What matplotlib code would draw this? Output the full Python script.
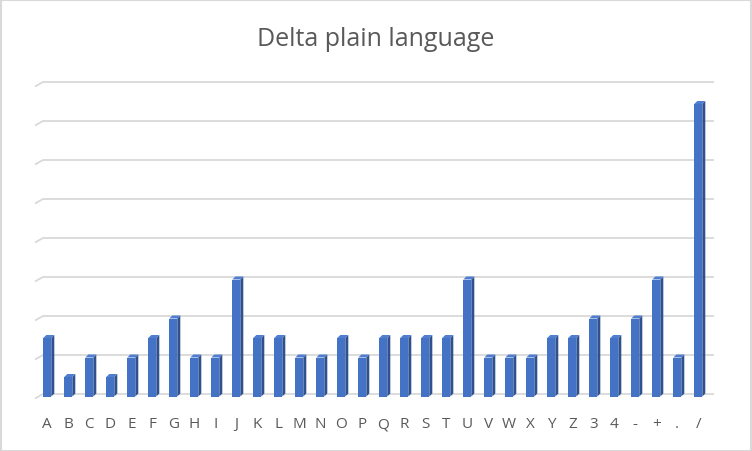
import matplotlib
matplotlib.use("Agg")
import matplotlib.pyplot as plt
from matplotlib.patches import Polygon, Rectangle

plt.rcParams['font.family'] = ['Open Sans', 'DejaVu Sans']

categories = ["A", "B", "C", "D", "E", "F", "G", "H", "I", "J", "K", "L", "M",
              "N", "O", "P", "Q", "R", "S", "T", "U", "V", "W", "X", "Y", "Z",
              "3", "4", "-", "+", ".", "/"]
counts = [3, 1, 2, 1, 2, 3, 4, 2, 2, 6, 3, 3, 2, 2, 3, 2, 3, 3, 3, 3, 6, 2, 2,
          2, 3, 3, 4, 3, 4, 6, 2, 15]
grid_values = [0, 2, 4, 6, 8, 10, 12, 14, 16]

W, H = 752, 452
fig = plt.figure(figsize=(W / 100, H / 100), dpi=100)

# axes placed in pixel terms: left 30, right 720, bottom 410, top 70
ax = fig.add_axes([30 / W, (H - 410) / H, 690 / W, 340 / H])
px_x = 21.0      # pixels per category
px_y = 19.5      # pixels per value unit
ax.set_xlim((30 - 47.3) / px_x, (720 - 47.3) / px_x)
ax.set_ylim(-12.5 / px_y, 327.5 / px_y)
ax.axis("off")

front = "#4472C4"
side = "#2F528F"
top = "#4F7ED0"
bw = 8 / px_x
ddx = 3 / px_x
ddy = 3 / px_y

# gridlines on the back wall with a short floor diagonal at the left
g_off = 2.5 / px_y
for v in grid_values:
    y = v + g_off
    ax.plot([(35 - 47.3) / px_x, (43 - 47.3) / px_x, (714 - 47.3) / px_x],
            [y - 4.5 / px_y, y, y], color="#D9D9D9", lw=1.3, zorder=1,
            solid_capstyle="butt")

xs = list(range(len(categories)))
ax.bar(xs, counts, width=bw, color=front, zorder=3, linewidth=0)
for x, c in zip(xs, counts):
    r = x + bw / 2
    l = x - bw / 2
    ax.add_patch(Polygon([(r, 0), (r + ddx, ddy), (r + ddx, c + ddy), (r, c)],
                         closed=True, facecolor=side, edgecolor="none", zorder=3))
    ax.add_patch(Polygon([(l, c), (l + ddx, c + ddy), (r + ddx, c + ddy), (r, c)],
                         closed=True, facecolor=top, edgecolor="none", zorder=3))
    ax.text(x, -31 / px_y, categories[x], ha="center", va="baseline",
            fontsize=11, color="#595959")

fig.text(376 / W, 1 - 46.5 / H, "Delta plain language", ha="center", va="baseline",
         fontsize=18, color="#595959")

fig.patches.append(Rectangle((0.5 / W, 0.5 / H), 1 - 1.5 / W, 1 - 1.5 / H,
                             transform=fig.transFigure, fill=False,
                             edgecolor="#D9D9D9", lw=1.5))

fig.savefig("out.png", dpi=100)
